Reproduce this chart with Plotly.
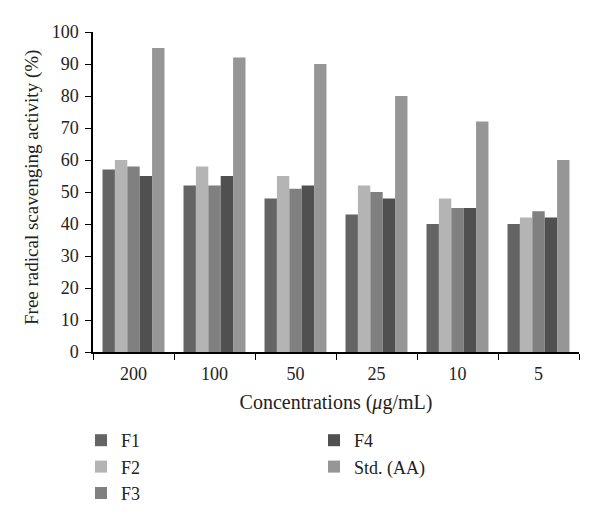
import plotly.graph_objects as go

categories = ["200", "100", "50", "25", "10", "5"]
f1 = [57, 52, 48, 43, 40, 40]
f2 = [60, 58, 55, 52, 48, 42]
f3 = [58, 52, 51, 50, 45, 44]
f4 = [55, 55, 52, 48, 45, 42]
aa = [95, 92, 90, 80, 72, 60]

series = [
    ("F1", f1, "#646464", "legend"),
    ("F2", f2, "#b4b4b4", "legend"),
    ("F3", f3, "#808080", "legend"),
    ("F4", f4, "#505050", "legend2"),
    ("Std. (AA)", aa, "#969696", "legend2"),
]

fig = go.Figure()
for name, vals, col, lg in series:
    fig.add_trace(go.Bar(x=categories, y=vals, name=name, marker_color=col,
                         marker_line_width=0, legend=lg))

W, H = 592, 518
font_fam = "Liberation Serif, serif"
fig.update_layout(
    width=W, height=H,
    margin=dict(l=85, r=21, t=24, b=174, autoexpand=False),
    paper_bgcolor="white", plot_bgcolor="white",
    barmode="group", bargap=0.235, bargroupgap=0,
    font=dict(family=font_fam, size=18, color="#222"),
    xaxis=dict(showline=True, linecolor="black", linewidth=1.5,
               ticks="outside", tickson="boundaries", ticklen=6,
               tickcolor="black", tickfont=dict(size=18), ticklabelstandoff=5,
               title=dict(text="Concentrations (<i>μ</i>g/mL)", font=dict(size=20), standoff=12)),
    yaxis=dict(range=[0, 100], dtick=10, showline=True, linecolor="black",
               linewidth=1.5, ticks="outside", ticklen=6, tickcolor="black",
               showgrid=False, zeroline=False, tickfont=dict(size=18), ticklabelstandoff=3,
               automargin=False),
    legend=dict(x=73 / W, y=1 - 414 / H, xref="container", yref="container",
                xanchor="left", yanchor="top",
                orientation="v", font=dict(size=18), tracegroupgap=0,
                itemwidth=30),
    legend2=dict(x=306 / W, y=1 - 414 / H, xref="container", yref="container",
                 xanchor="left", yanchor="top",
                 orientation="v", font=dict(size=18), tracegroupgap=0,
                 itemwidth=30),
    showlegend=True,
    annotations=[dict(text="Free radical scavenging activity (%)", textangle=-90,
                      xref="paper", yref="paper", x=(24 - 85) / 486, y=0.5125,
                      xanchor="center", yanchor="middle", showarrow=False,
                      font=dict(size=19, family=font_fam, color="#222"))],
)

fig.write_html("out.html")
